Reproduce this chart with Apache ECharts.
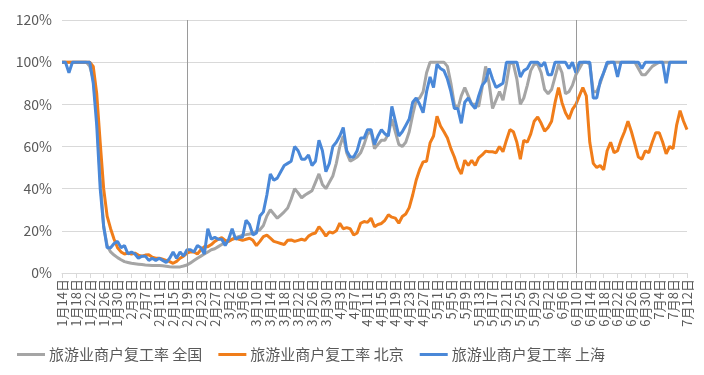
<!DOCTYPE html>
<html><head><meta charset="utf-8">
<script src="https://cdn.jsdelivr.net/npm/echarts@6/dist/echarts.min.js"></script>
<style>html,body{margin:0;padding:0;background:#fff}#c{width:704px;height:375px}</style>
</head><body><div id="c"></div>
<script>
// Category dates 2020-01-14 .. 2020-07-12 (daily)
const monthRanges = [[1,14,31],[2,1,29],[3,1,31],[4,1,30],[5,1,31],[6,1,30],[7,1,12]];
const categories = [];
monthRanges.forEach(([m,s,e]) => { for (let d = s; d <= e; d++) categories.push(m + '月' + d + '日'); });

const seriesNames = ['旅游业商户复工率 全国', '旅游业商户复工率 北京', '旅游业商户复工率 上海'];
const markDates = ['2月19日', '6月10日'];
const yTicks = [0, 20, 40, 60, 80, 100, 120];

const national = [
100,100,100,100,100,100,100,100,98,92,75,45,22,13,10,8.5,7.3,6.3,5.4,5,
4.6,4.4,4.2,4,3.8,3.7,3.6,3.6,3.5,3.4,3.2,3,2.9,2.8,2.9,3.3,3.8,4.8,5.9,7,
8,9,10,11,11.5,12.5,13.5,14.5,15.3,16,16.8,17.3,18,18.2,18.5,19,19.7,20.5,22.5,27,
30,28,26,27.5,29,30.8,35,40,38,35.6,37,38,39,43,47,42,40,43,46,52,
60,65,57,53,54,55,57,61,66,67,59,61,63,63,66,73,67,61,60,62,
67,75,82,83,86,95,100,100,100,100,100,98,90,80,78,84,88,84,80,80,
79,88,98,90,78,82,86,82,90,100,99,92,80,83,89,96,99,99,95,87,
85,87,93,99,95,85,86,89,94,97,100,100,99,86,86,90,95,99,100,100,
100,100,100,100,100,100,97,94,94,96,98,99,100,100,100,100,100,100,100,100,
100];

const beijing = [
100,100,100,100,100,100,100,100,100,98,85,62,40,27,21,16,12,10,9,9.5,
9,9.4,8.5,8,8.5,8.6,7.5,7,7,6.5,6,5.4,4.6,5.5,7,8,9.4,10,10,9,
11,12.5,12.5,13.5,15,16,16.8,15.5,15,16,16.5,16,15.5,16,16.5,15.5,13,15,17.3,18,
16.5,15,14.5,14,13.5,15.5,15.7,15,15.5,16,15.5,17.5,18.5,19,22,20,17.5,19.5,19,20,
23.6,21,21.5,21,18,19,23.6,24.4,24,26,22,23,23.5,25,27.6,26.5,26,23.6,26.8,28,
31,37,44,49,52.7,53,61.7,65,74.4,69.7,67,64,59,55,50,47,53.5,51,53.5,51,
54.6,56,57.8,57.5,57.5,57,60,57.5,63,68,67,62,54,63,62,66,72,74,71,67.3,
69,72,80.8,88,80.8,76,73,77.6,80,84,88,84,62,52,50,51,49,58,62,57,
58,63,67,72,67,61,55,54,58,57,62,66.5,66.5,62,56.5,60,59,70,77,72,
68];

const shanghai = [
100,100,95,100,100,100,100,100,100,90,70,40,22,12,12,14,15,12,13,9,
10,9,7,8,8,6,7,6,7,6,5,7,10,7,10,8,11,11,10,13,
12,9,21,16,17,16,16,13,16,21,16,17,17,25,23,18,19,27,29,37,
47,44,45,48,51,52,53,60,58,54,54,56,51,53,63,58,48,52,60,62,
65,69,58,55,55,58,64,64,68,68,61,65,68,66,65,79,72,65,67,70,
73,81,83,80,76,86,93,88,99,97,96,92,86,78,78,71,81,83,80,78,
84,89,91,97,92,88,89,90,100,100,100,100,93,96,97,100,100,100,98,100,
94,94,100,100,100,100,97,100,95,100,100,100,100,83,83,91,95,100,100,100,
93,100,100,100,100,100,100,97,100,100,100,100,100,100,90,100,100,100,100,100,
100];

const colors = ['#A5A5A5', '#F07D1A', '#4A88D8'];
const dataSets = [national, beijing, shanghai];
const FONT = '"Noto Sans CJK SC", "Noto Sans", sans-serif';

const series = dataSets.map((arr, i) => ({
  name: seriesNames[i],
  type: 'line',
  data: arr,
  symbol: 'none',
  smooth: false,
  lineStyle: { width: 3, color: colors[i] },
  itemStyle: { color: colors[i] },
  z: 2 + i,
  animation: false
}));
series[0].markLine = {
  silent: true,
  symbol: ['none', 'none'],
  label: { show: false },
  lineStyle: { color: '#9a9a9a', width: 1, type: 'solid' },
  data: markDates.map(d => ({ xAxis: d })),
  animation: false
};

const chart = echarts.init(document.getElementById('c'), null, { renderer: 'canvas' });
chart.setOption({
  animation: false,
  backgroundColor: '#fff',
  textStyle: { fontFamily: FONT },
  grid: { left: 62, right: 17, top: 20, bottom: 102, containLabel: false },
  legend: {
    bottom: 8, left: 12,
    itemWidth: 28, itemHeight: 3, itemGap: 16,
    icon: 'rect',
    textStyle: { fontSize: 15, color: '#595959', fontFamily: FONT, padding: [0, 0, 0, -1] },
    data: seriesNames
  },
  xAxis: {
    type: 'category',
    data: categories,
    boundaryGap: false,
    axisLine: { lineStyle: { color: '#d9d9d9', width: 1 } },
    axisTick: { show: true, interval: 3, length: 5, lineStyle: { color: '#d9d9d9' } },
    axisLabel: { interval: 3, rotate: 90, fontSize: 13, color: '#595959', fontFamily: FONT, margin: 6 },
    splitLine: { show: false }
  },
  yAxis: {
    type: 'value',
    min: 0, max: 120, interval: 20,
    axisLine: { show: false },
    axisTick: { show: false },
    axisLabel: { formatter: v => v + '%', fontSize: 14, color: '#595959', fontFamily: FONT, margin: 10 },
    splitLine: { lineStyle: { color: '#d9d9d9', width: 1 } }
  },
  series: series
});
</script></body></html>
